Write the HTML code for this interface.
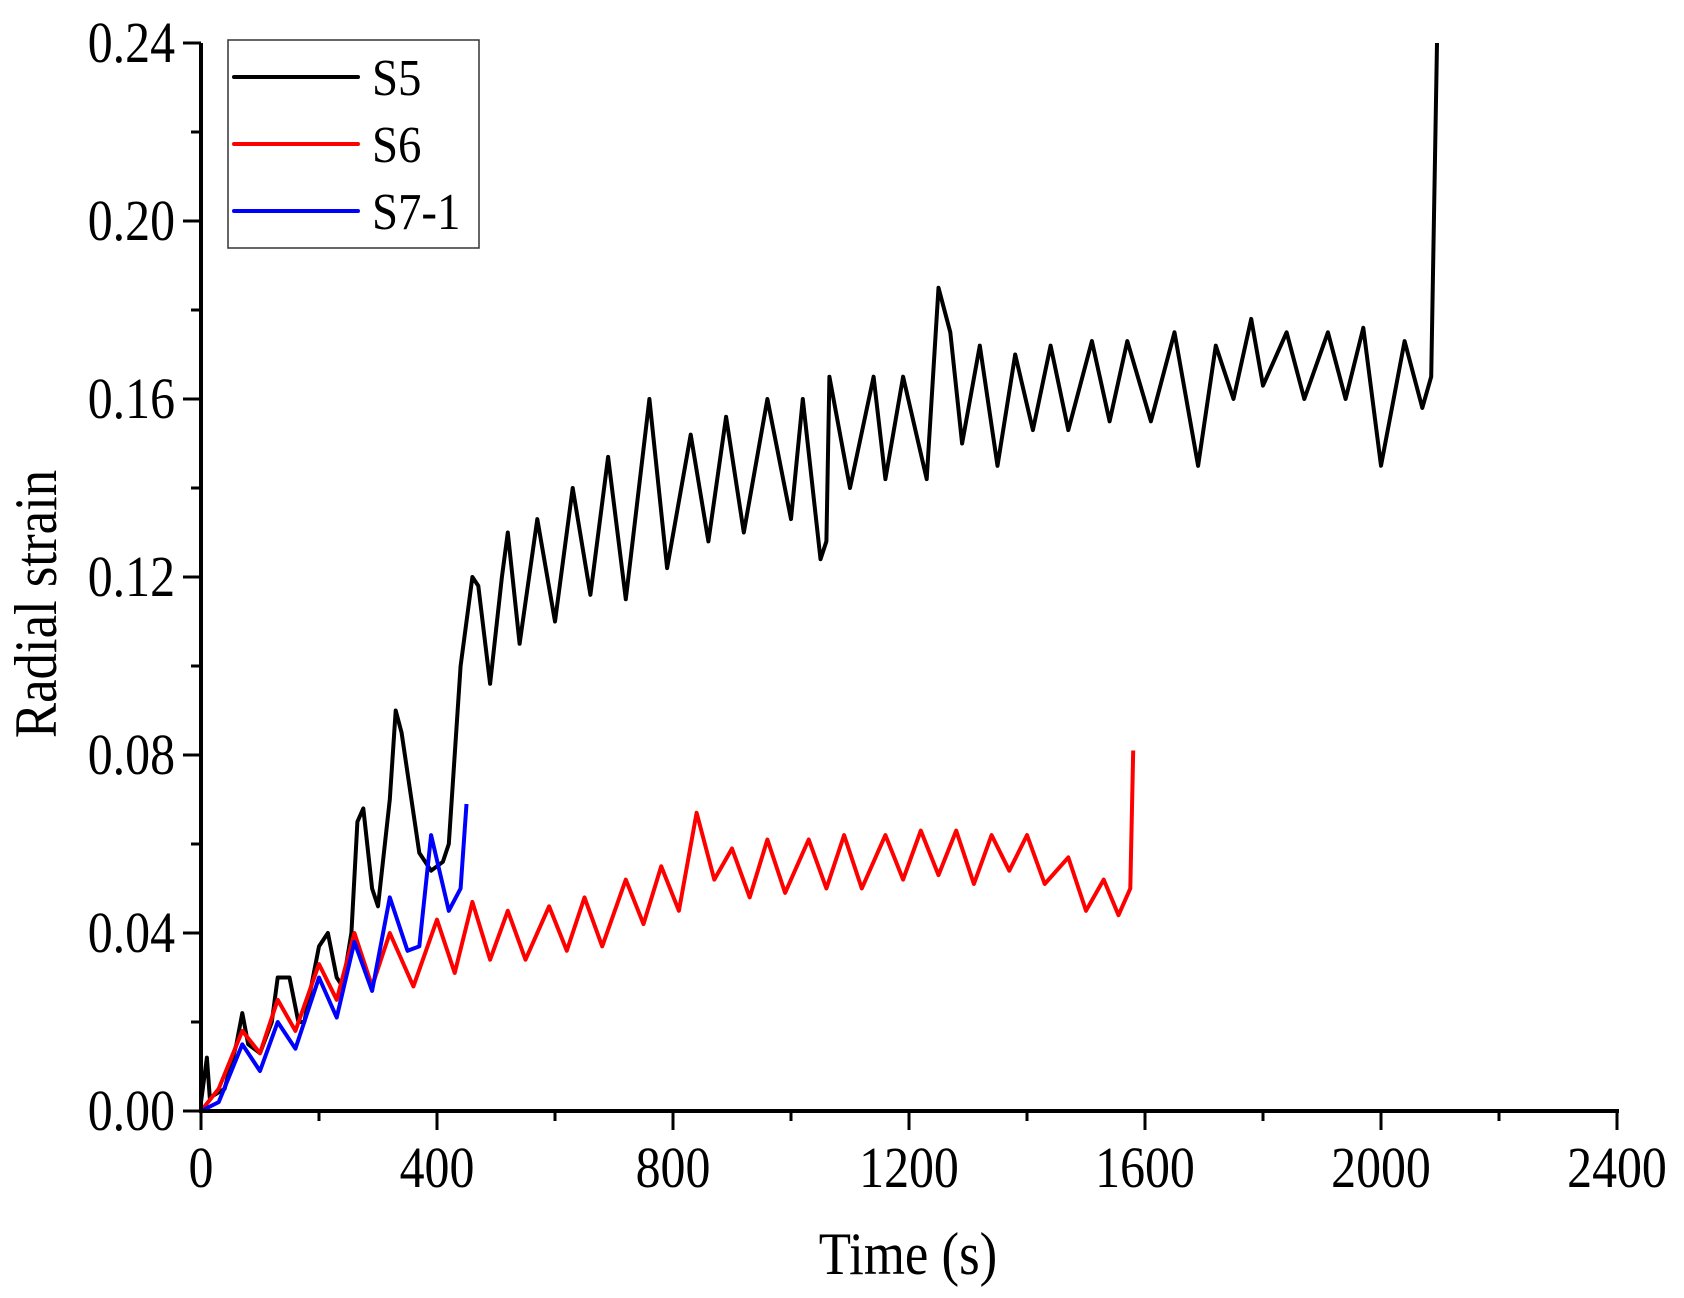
<!DOCTYPE html>
<html><head><meta charset="utf-8"><style>
body{margin:0;background:#fff;}
svg{display:block;font-family:"Liberation Serif",serif;}
</style></head><body>
<svg id="chart" width="1684" height="1298" viewBox="0 0 1684 1298"></svg>
<script>
const xTicks=[0,400,800,1200,1600,2000,2400];
const yTicks=[0.00,0.04,0.08,0.12,0.16,0.20,0.24];
const seriesNames=["S5","S6","S7-1"];
const s5t=[0,10,15,40,60,70,80,100,120,130,150,165,175,200,215,230,240,255,265,275,290,300,320,330,340,370,390,410,420,440,460,470,490,510,520,540,570,600,630,660,690,720,760,790,830,860,890,920,960,1000,1020,1050,1060,1065,1100,1140,1160,1190,1230,1250,1270,1290,1320,1350,1380,1410,1440,1470,1510,1540,1570,1610,1650,1690,1720,1750,1780,1800,1840,1870,1910,1940,1970,2000,2040,2070,2085,2095];
const s5v=[0.002,0.012,0.003,0.005,0.015,0.022,0.015,0.013,0.02,0.03,0.03,0.02,0.02,0.037,0.04,0.03,0.028,0.04,0.065,0.068,0.05,0.046,0.07,0.09,0.085,0.058,0.054,0.056,0.06,0.1,0.12,0.118,0.096,0.12,0.13,0.105,0.133,0.11,0.14,0.116,0.147,0.115,0.16,0.122,0.152,0.128,0.156,0.13,0.16,0.133,0.16,0.124,0.128,0.165,0.14,0.165,0.142,0.165,0.142,0.185,0.175,0.15,0.172,0.145,0.17,0.153,0.172,0.153,0.173,0.155,0.173,0.155,0.175,0.145,0.172,0.16,0.178,0.163,0.175,0.16,0.175,0.16,0.176,0.145,0.173,0.158,0.165,0.24];
const s6t=[0,30,70,100,130,160,200,230,260,290,320,360,400,430,460,490,520,550,590,620,650,680,720,750,780,810,840,870,900,930,960,990,1030,1060,1090,1120,1160,1190,1220,1250,1280,1310,1340,1370,1400,1430,1470,1500,1530,1555,1575,1580];
const s6v=[0,0.005,0.018,0.013,0.025,0.018,0.033,0.025,0.04,0.028,0.04,0.028,0.043,0.031,0.047,0.034,0.045,0.034,0.046,0.036,0.048,0.037,0.052,0.042,0.055,0.045,0.067,0.052,0.059,0.048,0.061,0.049,0.061,0.05,0.062,0.05,0.062,0.052,0.063,0.053,0.063,0.051,0.062,0.054,0.062,0.051,0.057,0.045,0.052,0.044,0.05,0.081];
const s7t=[0,30,70,100,130,160,200,230,260,290,320,350,370,390,420,440,450];
const s7v=[0,0.002,0.015,0.009,0.02,0.014,0.03,0.021,0.038,0.027,0.048,0.036,0.037,0.062,0.045,0.05,0.069];

const NS="http://www.w3.org/2000/svg";
const svg=document.getElementById('chart');
const X0=201,X1=1617,Y0=1111,Y1=43;
const xs=t=>X0+(t/2400)*(X1-X0);
const ys=v=>Y0-(v/0.24)*(Y0-Y1);
function mk(tag,attrs,parent){const e=document.createElementNS(NS,tag);for(const k in attrs)e.setAttribute(k,attrs[k]);(parent||svg).appendChild(e);return e;}

const cols=["#000","#ff0000","#0000ff"];
const data=[[s5t,s5v],[s6t,s6v],[s7t,s7v]];
data.forEach((d,i)=>{
  const pts=d[0].map((t,j)=>xs(t).toFixed(1)+","+ys(d[1][j]).toFixed(1)).join(" ");
  const p=mk('polyline',{points:pts,fill:"none",stroke:cols[i],"stroke-width":4,"stroke-linejoin":"round"});
  
  
});

const ax=mk('line',{x1:X0,y1:Y1,x2:X0,y2:Y0+2,stroke:"#000","stroke-width":4});


const bx=mk('line',{x1:X0-2,y1:Y0,x2:X1+2,y2:Y0,stroke:"#000","stroke-width":4});



yTicks.forEach((v,i)=>{
  const y=ys(v);
  mk('line',{x1:X0-18,y1:y,x2:X0,y2:y,stroke:"#000","stroke-width":3});
  if(i<yTicks.length-1){const ym=ys(v+0.02);mk('line',{x1:X0-10,y1:ym,x2:X0,y2:ym,stroke:"#000","stroke-width":3});}
  const t=mk('text',{x:0,y:0,"text-anchor":"end","font-size":58,transform:`translate(${X0-26},${y+19}) scale(0.86,1)`});
  t.textContent=v.toFixed(2);
  
  
});
xTicks.forEach((v,i)=>{
  const x=xs(v);
  mk('line',{x1:x,y1:Y0,x2:x,y2:Y0+19,stroke:"#000","stroke-width":3});
  if(i<xTicks.length-1){const xm=xs(v+200);mk('line',{x1:xm,y1:Y0,x2:xm,y2:Y0+10,stroke:"#000","stroke-width":3});}
  const t=mk('text',{x:0,y:0,"text-anchor":"middle","font-size":58,transform:`translate(${x},${Y0+76}) scale(0.86,1)`});
  t.textContent=v;
  
  
});
const xt=mk('text',{x:0,y:0,"text-anchor":"middle","font-size":60,transform:"translate(908,1274) scale(0.88,1)"});
xt.textContent="Time (s)";


const yt=mk('text',{x:0,y:0,"text-anchor":"middle","font-size":60,transform:"translate(56,604) rotate(-90) scale(0.88,1)"});
yt.textContent="Radial strain";



const lg=mk('g',{});


mk('rect',{x:228,y:40,width:251,height:208,fill:"#fff",stroke:"#333","stroke-width":1.5},lg);
seriesNames.forEach((n,i)=>{
  const y=77+i*67;
  const g=mk('g',{},lg);
  
  
  mk('line',{x1:234,y1:y,x2:358,y2:y,stroke:cols[i],"stroke-width":4,"stroke-linecap":"round"},g);
  const t=mk('text',{x:0,y:0,"font-size":52,transform:`translate(372,${y+18}) scale(0.9,1)`},g);
  t.textContent=n;
});
</script>
</body></html>
